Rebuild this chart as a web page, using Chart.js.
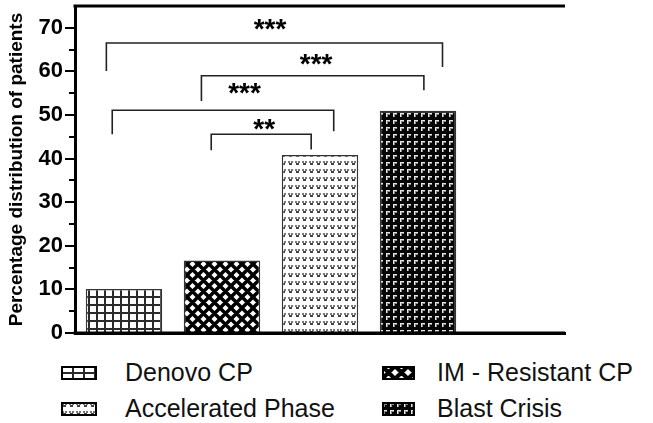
<!DOCTYPE html>
<html lang="en">
<head>
<meta charset="UTF-8">
<title>Percentage distribution of patients</title>
<script src="https://cdn.jsdelivr.net/npm/chart.js@4.4.1/dist/chart.umd.min.js"></script>
<style>
    body {
        margin: 0;
        width: 653px;
        height: 423px;
        overflow: hidden;
        background: #fff;
        position: relative;
        font-family: 'Liberation Sans', Arial, sans-serif;
    }
    #chartBox { position: absolute; left: 0; top: 0; width: 653px; height: 345px; }
    .item {
        position: absolute;
        display: flex;
        align-items: center;
        font-size: 25px;
        color: #111;
        white-space: nowrap;
        line-height: 1;
    }
</style>
</head>
<body>

<div id="chartBox"><canvas id="myChart" width="653" height="345"></canvas></div>
<div id="legend"></div>

<script>
    // data
    const categories = ['Denovo CP', 'IM - Resistant CP', 'Accelerated Phase', 'Blast Crisis'];
    const percentages = [10.1, 16.6, 40.8, 51.0];
    const yTicks = [0, 10, 20, 30, 40, 50, 60, 70];
    const yMinorTicks = [5, 15, 25, 35, 45, 55, 65];

    // significance brackets (x in category index units, y in percent)
    const bracketStart = [-0.18, 0.79, -0.12, 0.89];
    const bracketEnd = [3.25, 3.06, 2.14, 1.91];
    const bracketTop = [66.5, 59.0, 51.1, 45.6];
    const bracketLeftEnd = [60.1, 53.2, 45.6, 41.9];
    const bracketRightEnd = [61.0, 55.7, 46.3, 42.1];
    const bracketStars = ['***', '***', '***', '**'];
    const starX = [1.49, 1.96, 1.23, 1.43];
    const starY = [70.5, 62.4, 55.7, 47.4];

    const FONT = "'Liberation Sans', Arial, sans-serif";

    function makeTile(w, h, draw) {
        const c = document.createElement('canvas');
        c.width = w;
        c.height = h;
        draw(c.getContext('2d'), w, h);
        return c;
    }

    // fill patterns: grid, cross-hatch, speckle, dark weave
    const tiles = [
        (n, m = n) => makeTile(n, m, (g, w, h) => {
            g.fillStyle = '#fff'; g.fillRect(0, 0, w, h);
            g.fillStyle = '#2a2a2a'; g.fillRect(0, 0, w, 2); g.fillRect(0, 0, 2, h);
        }),
        n => makeTile(n, n, (g, w, h) => {
            g.fillStyle = '#fff'; g.fillRect(0, 0, w, h);
            g.strokeStyle = '#000'; g.lineWidth = n * 0.32;
            g.beginPath();
            for (const o of [-w, 0, w]) {
                g.moveTo(o, 0); g.lineTo(o + w, h);
                g.moveTo(o + w, 0); g.lineTo(o, h);
            }
            g.stroke();
        }),
        n => makeTile(n, n + 1, (g, w, h) => {
            g.fillStyle = '#fff'; g.fillRect(0, 0, w, h);
            g.fillStyle = '#777'; g.fillRect(1, 1, 2, 2); g.fillRect(4, 1, 2, 2);
            g.fillStyle = '#444'; g.fillRect(2, 3, 3, 2);
        }),
        n => makeTile(n, n, (g, w, h) => {
            g.fillStyle = '#050505'; g.fillRect(0, 0, w, h);
            g.fillStyle = '#e8e8e8'; g.fillRect(1, 1, 4, 1); g.fillRect(1, 1, 1, 4);
            g.fillStyle = '#888'; g.fillRect(2, 2, 3, 1); g.fillRect(2, 2, 1, 3);
        })
    ];

    const ctx = document.getElementById('myChart').getContext('2d');
    const barTileSize = [8, 11, 7, 7];
    const patterns = tiles.map((t, i) => ctx.createPattern(t(barTileSize[i]), 'repeat'));

    const annotate = {
        id: 'annotate',
        afterDraw(chart) {
            const {ctx, chartArea: a, scales: {x, y}} = chart;
            ctx.save();
            ctx.strokeStyle = '#000';
            ctx.lineWidth = 3;
            ctx.beginPath();
            ctx.moveTo(a.left - 1.5, a.top);
            ctx.lineTo(a.right, a.top);
            ctx.moveTo(a.left - 1.5, y.getPixelForValue(0));
            ctx.lineTo(a.right, y.getPixelForValue(0));
            ctx.stroke();

            ctx.lineWidth = 2;
            ctx.beginPath();
            yMinorTicks.forEach(v => {
                const py = Math.round(y.getPixelForValue(v));
                ctx.moveTo(a.left - 6, py);
                ctx.lineTo(a.left, py);
            });
            ctx.stroke();

            ctx.strokeStyle = '#222';
            ctx.lineWidth = 1.6;
            ctx.fillStyle = '#000';
            ctx.font = 'bold 28px ' + FONT;
            ctx.textAlign = 'center';
            ctx.textBaseline = 'alphabetic';
            bracketStars.forEach((s, i) => {
                const x0 = x.getPixelForValue(bracketStart[i]);
                const x1 = x.getPixelForValue(bracketEnd[i]);
                const yt = y.getPixelForValue(bracketTop[i]);
                ctx.beginPath();
                ctx.moveTo(x0, y.getPixelForValue(bracketLeftEnd[i]));
                ctx.lineTo(x0, yt);
                ctx.lineTo(x1, yt);
                ctx.lineTo(x1, y.getPixelForValue(bracketRightEnd[i]));
                ctx.stroke();
                ctx.fillText(s, x.getPixelForValue(starX[i]), y.getPixelForValue(starY[i]) + 12);
            });
            ctx.restore();
        }
    };

    new Chart(ctx, {
        type: 'bar',
        data: {
            labels: [...categories, ''],
            datasets: [{
                data: percentages,
                backgroundColor: patterns,
                borderColor: '#333',
                borderWidth: 1.5,
                barPercentage: 0.78,
                categoryPercentage: 1
            }]
        },
        options: {
            responsive: false,
            animation: false,
            layout: {padding: {left: 0, top: 6, right: 88, bottom: 12}},
            plugins: {
                legend: {display: false},
                tooltip: {enabled: false}
            },
            scales: {
                x: {
                    grid: {display: false},
                    ticks: {display: false},
                    border: {width: 3, color: '#000'},
                    afterFit: s => { s.height = 0; s.paddingLeft = 0; s.paddingRight = 0; }
                },
                y: {
                    min: 0,
                    max: 75,
                    afterBuildTicks: s => { s.ticks = yTicks.map(v => ({value: v})); },
                    afterFit: s => { s.width = 75; s.paddingTop = 0; s.paddingBottom = 0; },
                    grid: {
                        drawOnChartArea: false,
                        tickLength: 10,
                        lineWidth: 2,
                        color: '#000'
                    },
                    border: {width: 3, color: '#000'},
                    ticks: {
                        color: '#000',
                        padding: 2,
                        font: {family: FONT, size: 22, weight: 'bold'}
                    },
                    title: {
                        display: true,
                        text: 'Percentage distribution of patients',
                        color: '#000',
                        padding: {top: 5, bottom: 0},
                        font: {family: FONT, size: 19, weight: 'bold'}
                    }
                }
            }
        },
        plugins: [annotate]
    });

    // legend in two columns
    const legendLeft = [61, 382, 61, 382];
    const legendTop = [360, 360, 396, 396];
    const legendIconW = [36, 33, 36, 33];
    const legendGap = [28, 22, 28, 22];
    const legendTile = [[11, 6], [13], [7], [7]];
    const legend = document.getElementById('legend');
    categories.forEach((name, i) => {
        const item = document.createElement('div');
        item.className = 'item';
        item.style.left = legendLeft[i] + 'px';
        item.style.top = legendTop[i] + 'px';
        const w = legendIconW[i];
        const icon = document.createElement('canvas');
        icon.width = w;
        icon.height = 14;
        icon.style.marginRight = legendGap[i] + 'px';
        const g = icon.getContext('2d');
        g.fillStyle = g.createPattern(tiles[i](...legendTile[i]), 'repeat');
        g.fillRect(0, 0, w, 14);
        g.strokeStyle = '#000';
        g.lineWidth = 2;
        g.strokeRect(1, 1, w - 2, 12);
        item.appendChild(icon);
        const label = document.createElement('span');
        label.textContent = name;
        item.appendChild(label);
        legend.appendChild(item);
    });
</script>
</body>
</html>
